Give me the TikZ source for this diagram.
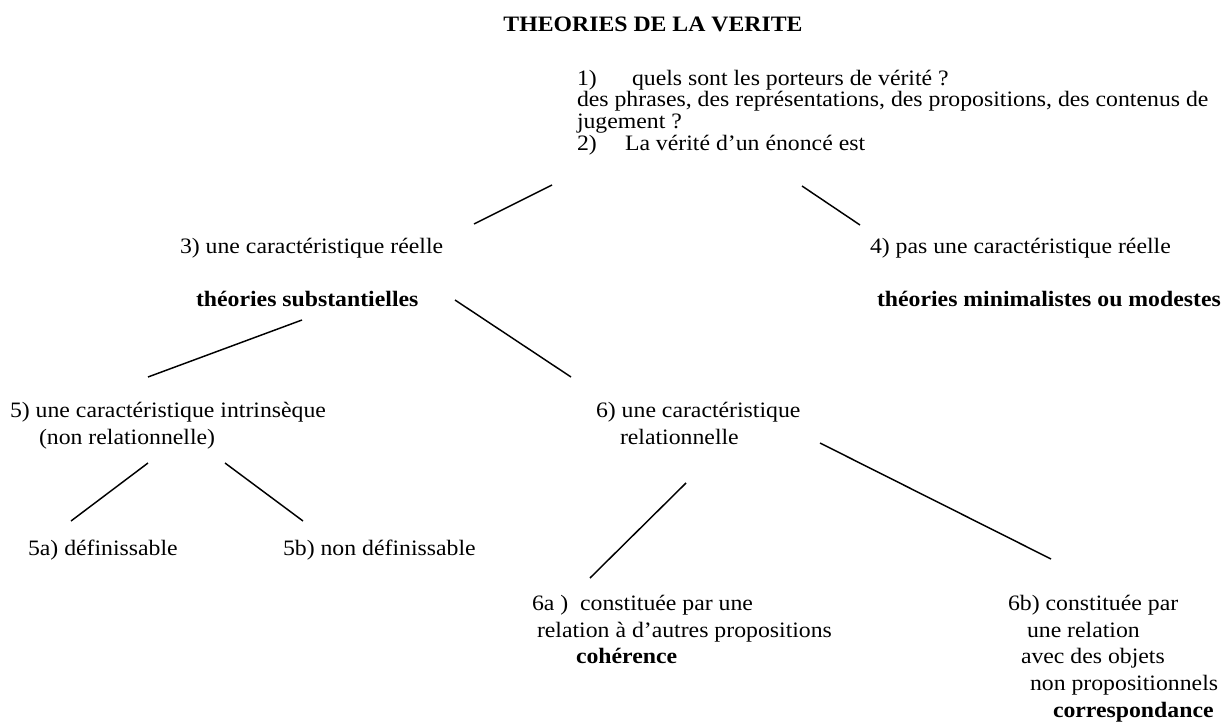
\documentclass[tikz,border=0pt]{standalone}
\usepackage{fontspec}
\setmainfont{Liberation Serif}[FakeStretch=1.08]
\begin{document}
\begin{tikzpicture}[x=0.75pt,y=-0.75pt,
  lbl/.style={anchor=base west, inner sep=0pt, outer sep=0pt, font=\fontsize{16.5}{16.5}\selectfont},
  bld/.style={lbl, font=\fontsize{16.5}{16.5}\selectfont\bfseries},
  conn/.style={line width=1.1pt, line cap=butt}]
\useasboundingbox (0,0) rectangle (1227,724);
% title
\node[bld, anchor=base] (title) at (653,31.7) {THEORIES DE LA VERITE};
% top block
\node[lbl] (q1n) at (577,85) {1)};
\node[lbl] (q1) at (632,85) {quels sont les porteurs de vérité ?};
\node[lbl] (q1b) at (577,106.7) {des phrases, des représentations, des propositions, des contenus de};
\node[lbl] (q1c) at (577,128.3) {jugement ?};
\node[lbl] (q2n) at (577,150) {2)};
\node[lbl] (q2) at (625,150) {La vérité d’un énoncé est};
% level 3/4
\node[lbl] (n3) at (180,253) {3) une caractéristique réelle};
\node[lbl] (n4) at (870,253) {4) pas une caractéristique réelle};
\node[bld] (sub) at (196,306) {théories substantielles};
\node[bld] (mini) at (877,306) {théories minimalistes ou modestes};
% level 5/6
\node[lbl] (n5) at (10,417) {5) une caractéristique intrinsèque};
\node[lbl] (n5b) at (39,444) {(non relationnelle)};
\node[lbl] (n6) at (596,417) {6) une caractéristique};
\node[lbl] (n6b) at (620,444) {relationnelle};
% 5a/5b
\node[lbl] (n5a) at (28,555) {5a) définissable};
\node[lbl] (n5bb) at (283,555) {5b) non définissable};
% 6a
\node[lbl] (n6a) at (532,610) {6a )~~constituée par une};
\node[lbl] (n6a2) at (537,637) {relation à d’autres propositions};
\node[bld] (coh) at (576,663) {cohérence};
% 6b
\node[lbl] (n6bb) at (1008,610) {6b) constituée par};
\node[lbl] (n6b2) at (1027,637) {une relation};
\node[lbl] (n6b3) at (1021,663) {avec des objets};
\node[lbl] (n6b4) at (1030,690) {non propositionnels};
\node[bld] (corr) at (1053,717) {correspondance};
% connector end points
\coordinate (a1) at (552,185); \coordinate (a2) at (474,224);
\coordinate (b1) at (802,186); \coordinate (b2) at (860,225);
\coordinate (c1) at (455,300); \coordinate (c2) at (571,377);
\coordinate (d1) at (302,320); \coordinate (d2) at (148,377);
\coordinate (e1) at (148,463); \coordinate (e2) at (71,521);
\coordinate (f1) at (225,463); \coordinate (f2) at (303,521);
\coordinate (g1) at (820,443); \coordinate (g2) at (1051,559);
\coordinate (h1) at (686,483); \coordinate (h2) at (590,578);
\draw[conn] (a1) -- (a2);
\draw[conn] (b1) -- (b2);
\draw[conn] (c1) -- (c2);
\draw[conn] (d1) -- (d2);
\draw[conn] (e1) -- (e2);
\draw[conn] (f1) -- (f2);
\draw[conn] (g1) -- (g2);
\draw[conn] (h1) -- (h2);
\end{tikzpicture}
\end{document}
